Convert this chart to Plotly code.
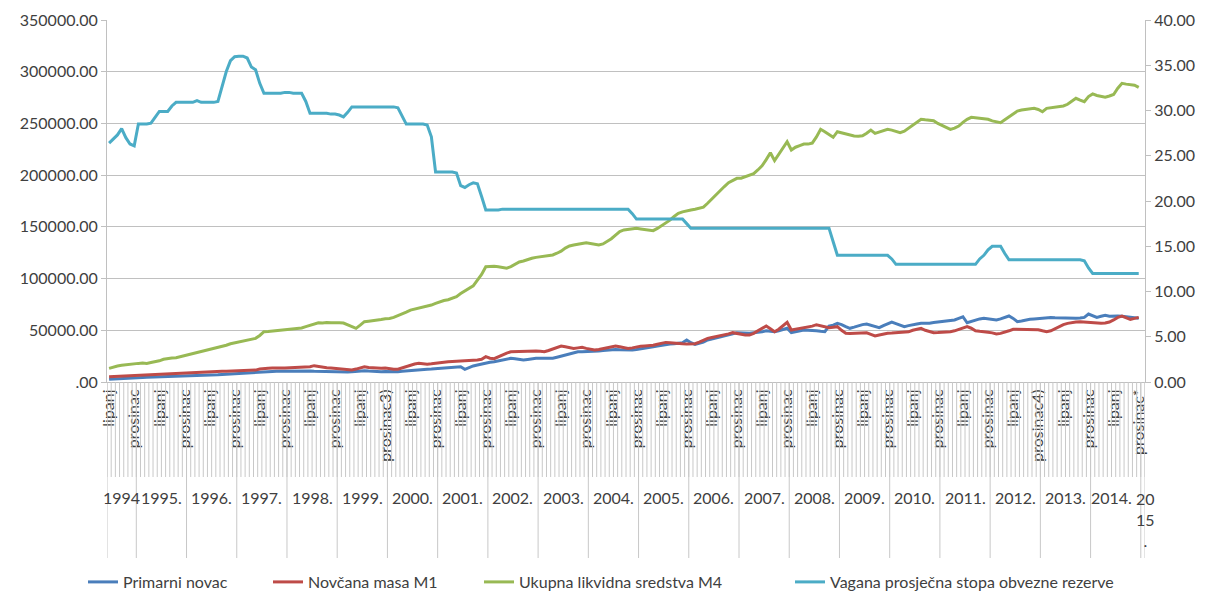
import plotly.graph_objects as go

# ---------------- data ----------------
years = ["1994", "1995.", "1996.", "1997.", "1998.", "1999.", "2000.", "2001.", "2002.",
         "2003.", "2004.", "2005.", "2006.", "2007.", "2008.", "2009.", "2010.", "2011.",
         "2012.", "2013.", "2014.", "2015."]
first_month = [6] + [1] * 20 + [1]
last_month = [12] * 21 + [1]

month_names = ["siječanj", "veljača", "ožujak", "travanj", "svibanj", "lipanj",
               "srpanj", "kolovoz", "rujan", "listopad", "studeni", "prosinac"]
shown_months = ["lipanj", "prosinac"]
label_overrides = {("1999.", "prosinac"): "prosinac3)",
                   ("2012.", "prosinac"): "prosinac4)",
                   ("2014.", "prosinac"): "prosinac*"}

# Primarni novac (thousands), monthly Jun 1994 - Dec 2014
primarni = [
    2.6, 2.9, 3.2, 3.5, 3.7, 3.9, 4.1,
    4.2, 4.3, 4.5, 4.6, 4.8, 5.0, 5.1, 5.2, 5.3, 5.5, 5.6, 5.8,
    5.9, 6.0, 6.1, 6.2, 6.4, 6.6, 6.8, 7.0, 7.3, 7.6, 7.9, 8.2,
    8.5, 8.8, 9.0, 9.3, 9.6, 9.8, 10.0, 10.1, 10.2, 10.3, 10.4, 10.5,
    10.4, 10.3, 10.4, 10.5, 10.6, 10.7, 10.5, 10.3, 10.1, 10.0, 10.0, 10.0,
    9.8, 9.7, 9.6, 9.8, 10.2, 10.6, 10.9, 10.6, 10.3, 10.1, 10.0, 10.2,
    10.0, 9.9, 10.0, 10.5, 10.9, 11.2, 11.6, 11.8, 12.0, 12.3, 12.5, 12.8,
    13.0, 13.2, 13.5, 13.8, 14.2, 14.8, 12.3, 14.0, 15.5, 16.4, 17.5, 18.5,
    19.0, 19.6, 20.5, 21.5, 22.5, 22.9, 22.5, 22.0, 21.3, 21.8, 22.5, 22.9,
    22.9, 22.9, 22.9, 23.0, 24.0, 25.0, 26.1, 27.0, 28.0, 29.3, 29.3, 29.3,
    29.3, 29.3, 30.0, 30.5, 31.0, 31.6, 31.5, 31.3, 31.0, 31.0, 31.0, 31.5,
    32.0, 33.0, 33.5, 34.0, 34.8, 35.5, 36.4, 36.8, 37.0, 37.3, 38.0, 40.6,
    38.0, 36.4, 37.5, 38.5, 40.6, 41.5, 42.2, 43.5, 44.5, 45.5, 46.5, 47.7,
    47.5, 47.0, 47.2, 47.5, 47.7, 48.5, 49.5, 49.0, 48.5, 49.5, 50.5, 51.9,
    47.7, 48.5, 49.5, 50.3, 50.0, 50.0, 49.5, 49.0, 48.6, 54.1, 55.0, 56.7,
    55.5, 53.5, 51.9, 53.0, 54.5, 55.5, 56.1, 55.0, 53.5, 52.5, 54.5, 56.5,
    58.0, 56.5, 55.0, 53.5, 54.5, 55.5, 56.0, 56.7, 56.5, 56.8, 57.5, 58.0,
    58.3, 58.5, 59.0, 60.0, 61.5, 63.1, 57.3, 58.5, 60.0, 61.0, 61.6, 61.0,
    60.5, 60.0, 61.0, 62.5, 63.8, 61.5, 58.3, 59.0, 60.0, 60.6, 61.0, 61.5,
    62.0, 62.5, 62.3, 62.0, 61.8, 61.6, 61.5, 61.6, 61.6, 61.8, 62.5, 65.7,
    64.0, 62.5, 63.5, 64.5, 63.5, 63.8, 63.8, 63.5, 63.0, 62.5, 62.0, 61.6,
]

# Novčana masa M1 (thousands)
m1 = [
    5.1, 5.3, 5.6, 5.9, 6.2, 6.5, 6.8,
    6.9, 7.0, 7.2, 7.4, 7.7, 8.0, 8.2, 8.4, 8.5, 8.6, 8.8, 9.0,
    9.0, 9.1, 9.3, 9.5, 9.7, 10.0, 10.1, 10.2, 10.4, 10.5, 10.7, 10.8,
    10.8, 10.9, 10.9, 11.0, 11.5, 12.5, 13.2, 13.3, 13.5, 13.8, 13.6, 13.5,
    13.6, 13.8, 14.0, 14.2, 14.5, 14.8, 15.8, 15.0, 14.2, 13.8, 13.5, 13.0,
    12.5, 12.0, 11.8, 11.6, 12.5, 13.5, 14.8, 14.0, 13.5, 13.6, 13.2, 13.6,
    12.8, 12.3, 12.3, 13.5, 15.0, 16.5, 17.4, 18.0, 17.5, 17.2, 17.6, 18.2,
    18.8, 19.3, 19.6, 19.8, 20.2, 20.6, 20.8, 21.0, 21.1, 21.3, 22.0, 24.5,
    23.0, 22.5, 24.5, 26.5, 28.0, 29.3, 29.5, 29.8, 30.0, 30.2, 30.3, 30.0,
    29.8, 29.3, 30.5, 32.0, 33.5, 34.8, 34.0, 33.0, 32.5, 33.0, 33.5, 32.5,
    32.0, 31.0, 31.5, 32.5, 33.5, 34.2, 34.8, 34.0, 33.5, 32.5, 33.0, 34.0,
    34.5, 34.8, 35.0, 35.5, 36.5, 37.5, 38.3, 38.0, 37.5, 37.3, 37.0, 36.8,
    36.6, 37.0, 38.5, 40.5, 42.2, 43.0, 43.8, 44.5, 45.5, 46.5, 47.7, 47.0,
    46.0, 45.5, 45.4, 47.0, 49.5, 52.0, 54.1, 51.5, 48.6, 51.0, 54.0, 57.7,
    50.3, 51.0, 52.0, 52.5, 53.0, 54.0, 55.4, 54.5, 53.0, 52.5, 53.0, 53.5,
    50.0, 47.1, 47.0, 47.0, 47.2, 47.1, 47.5, 46.0, 44.5, 45.5, 46.5, 47.1,
    47.3, 47.5, 47.6, 47.7, 48.5, 50.0, 51.0, 51.9, 50.0, 48.5, 47.7, 47.8,
    48.0, 48.3, 48.6, 49.5, 51.0, 52.5, 53.5, 52.0, 49.6, 49.0, 48.8, 48.0,
    47.5, 46.4, 47.0, 48.0, 49.5, 51.0, 51.0, 51.0, 51.0, 50.8, 51.0, 50.5,
    49.5, 48.6, 49.5, 51.5, 53.5, 55.5, 56.7, 57.5, 58.0, 58.3, 58.0, 57.5,
    57.0, 56.8, 56.7, 57.0, 58.0, 60.0, 62.5, 63.8, 62.0, 60.6, 61.5, 62.5,
]

# Ukupna likvidna sredstva M4 (thousands)
m4 = [
    13.2, 14.5, 15.5, 16.2, 16.8, 17.2, 17.6,
    18.0, 18.3, 18.0, 18.8, 19.5, 20.5, 22.0, 22.9, 23.2, 23.5, 24.5, 25.5,
    26.5, 27.5, 28.5, 29.5, 30.5, 31.0, 32.5, 33.5, 34.5, 35.5, 37.0, 37.8,
    38.5, 39.2, 40.2, 41.0, 42.2, 45.0, 48.6, 48.8, 49.2, 49.5, 50.0, 50.3,
    50.5, 51.0, 51.5, 52.2, 53.5, 55.0, 56.5, 57.3, 57.0, 57.5, 57.2, 57.6,
    57.3, 57.0, 55.5, 53.5, 51.9, 55.0, 58.3, 58.8, 59.2, 59.8, 60.5, 61.2,
    61.4, 62.5, 64.0, 65.5, 67.5, 69.5, 70.5, 71.2, 72.5, 73.5, 74.4, 76.0,
    77.5, 78.8, 79.5, 80.9, 82.5, 85.5, 88.0, 90.6, 93.0, 98.6, 104.0, 111.5,
    112.0, 111.8, 111.5, 110.5, 110.0, 111.5, 114.0, 116.0, 117.0, 118.5, 119.6, 120.5,
    121.0, 121.8, 122.3, 122.8, 124.5, 126.5, 129.5, 131.5, 132.5, 133.5, 134.0, 134.7,
    134.0, 133.0, 132.5, 133.5, 135.6, 138.5, 142.0, 145.5, 147.0, 147.5, 148.0, 148.6,
    148.0, 147.5, 147.0, 146.3, 148.5, 151.0, 153.4, 156.5, 160.0, 163.0, 164.5, 165.6,
    166.3, 167.0, 167.9, 169.0, 172.8, 177.0, 181.5, 185.6, 189.0, 192.7, 195.0, 196.9,
    197.0, 198.5, 199.5, 201.5, 205.0, 209.0, 215.0, 221.7, 214.0, 220.0, 226.0, 232.3,
    224.3, 227.0, 228.5, 230.0, 230.0, 231.0, 237.0, 244.3, 242.0, 239.0, 236.6, 242.0,
    241.0, 240.0, 238.5, 237.8, 237.5, 238.0, 240.5, 243.6, 240.4, 241.5, 243.0, 244.3,
    243.5, 242.0, 241.0, 242.5, 245.3, 248.0, 251.5, 254.0, 253.5, 253.0, 252.7, 250.0,
    248.0, 246.0, 244.3, 245.5, 247.5, 251.0, 254.0, 255.9, 255.5, 255.2, 255.0, 254.0,
    252.5, 251.5, 250.7, 253.5, 256.5, 259.0, 262.0, 263.0, 263.5, 264.0, 264.6, 263.5,
    261.3, 264.6, 265.0, 265.5, 266.0, 266.9, 268.5, 271.5, 274.3, 272.5, 271.0, 276.0,
    278.5, 277.0, 276.0, 275.3, 276.5, 278.0, 284.0, 288.8, 288.0, 287.5, 287.0, 284.9,
]

# Vagana prosječna stopa obvezne rezerve (%)
stopa = [
    26.4, 26.8, 27.3, 28.0, 27.0, 26.3, 26.1,
    28.5, 28.5, 28.5, 28.6, 29.3, 29.9, 29.9, 29.9, 30.5, 30.9, 30.9, 30.9,
    30.9, 30.9, 31.1, 30.9, 30.9, 30.9, 30.9, 31.0, 32.8, 34.3, 35.5, 35.95,
    36.0, 36.0, 35.8, 34.8, 34.5, 33.0, 31.9, 31.9, 31.9, 31.9, 31.9, 32.0,
    32.0, 31.9, 31.9, 31.9, 31.0, 29.7, 29.7, 29.7, 29.7, 29.7, 29.6, 29.6,
    29.5, 29.3, 29.8, 30.4, 30.4, 30.4, 30.4, 30.4, 30.4, 30.4, 30.4, 30.4,
    30.4, 30.4, 30.3, 29.4, 28.5, 28.5, 28.5, 28.5, 28.5, 28.4, 27.1, 23.2,
    23.2, 23.2, 23.2, 23.2, 23.1, 21.7, 21.5, 21.8, 22.0, 21.9, 20.5, 19.0,
    19.0, 19.0, 19.0, 19.1, 19.1, 19.1, 19.1, 19.1, 19.1, 19.1, 19.1, 19.1,
    19.1, 19.1, 19.1, 19.1, 19.1, 19.1, 19.1, 19.1, 19.1, 19.1, 19.1, 19.1,
    19.1, 19.1, 19.1, 19.1, 19.1, 19.1, 19.1, 19.1, 19.1, 19.1, 18.6, 18.0,
    18.0, 18.0, 18.0, 18.0, 18.0, 18.0, 18.0, 18.0, 18.0, 18.0, 18.0, 17.5,
    17.0, 17.0, 17.0, 17.0, 17.0, 17.0, 17.0, 17.0, 17.0, 17.0, 17.0, 17.0,
    17.0, 17.0, 17.0, 17.0, 17.0, 17.0, 17.0, 17.0, 17.0, 17.0, 17.0, 17.0,
    17.0, 17.0, 17.0, 17.0, 17.0, 17.0, 17.0, 17.0, 17.0, 17.0, 15.5, 14.0,
    14.0, 14.0, 14.0, 14.0, 14.0, 14.0, 14.0, 14.0, 14.0, 14.0, 14.0, 14.0,
    13.6, 13.0, 13.0, 13.0, 13.0, 13.0, 13.0, 13.0, 13.0, 13.0, 13.0, 13.0,
    13.0, 13.0, 13.0, 13.0, 13.0, 13.0, 13.0, 13.0, 13.0, 13.6, 14.0, 14.6,
    15.0, 15.0, 15.0, 14.2, 13.5, 13.5, 13.5, 13.5, 13.5, 13.5, 13.5, 13.5,
    13.5, 13.5, 13.5, 13.5, 13.5, 13.5, 13.5, 13.5, 13.5, 13.5, 13.4, 12.6,
    12.0, 12.0, 12.0, 12.0, 12.0, 12.0, 12.0, 12.0, 12.0, 12.0, 12.0, 12.0,
]

series_names = ["Primarni novac", "Novčana masa M1", "Ukupna likvidna sredstva M4",
                "Vagana prosječna stopa obvezne rezerve"]
left_ticks = [0, 50000, 100000, 150000, 200000, 250000, 300000, 350000]
left_ticktext = [".00", "50000.00", "100000.00", "150000.00", "200000.00",
                 "250000.00", "300000.00", "350000.00"]
right_ticks = [0, 5, 10, 15, 20, 25, 30, 35, 40]
right_ticktext = ["0.00", "5.00", "10.00", "15.00", "20.00", "25.00", "30.00", "35.00", "40.00"]

# ---------------- build categories ----------------
cat_year, cat_month = [], []
year_start, year_len = [], []
for y, f, l in zip(years, first_month, last_month):
    year_start.append(len(cat_year))
    year_len.append(l - f + 1)
    for m in range(f, l + 1):
        cat_year.append(y)
        cat_month.append(month_names[m - 1])
n_cat = len(cat_year)

tickvals, ticktext = [], []
for i, (y, m) in enumerate(zip(cat_year, cat_month)):
    if m in shown_months and y != "2015.":
        tickvals.append(i)
        ticktext.append(label_overrides.get((y, m), m))

FONT = "Lato"
TXT = "#404040"
GRID = "#c0c0c0"
colors = ["#4a7ebb", "#be4b48", "#98b954", "#4bacc6"]

W, H = 1215, 593
# plot area in window pixels
PL, PR, PT, PB = 107, 1145, 20, 382
legend_px = [83, 268, 479, 790]   # left edge of each legend entry (pixels)
legend_py = 582

fig = go.Figure()
idx = list(range(n_cat))
legend_ids = ["legend", "legend2", "legend3", "legend4"]
for name, vals, col, scale, ax, lg in zip(series_names, [primarni, m1, m4, stopa], colors,
                                           [1000, 1000, 1000, 1], ["y", "y", "y", "y2"],
                                           legend_ids):
    fig.add_trace(go.Scatter(x=idx[:len(vals)], y=[v * scale for v in vals], mode="lines",
                             name=name, yaxis=ax, legend=lg,
                             line=dict(color=col, width=3)))

plot_h = PB - PT
def py(pixel_y):
    return (PB - pixel_y) / plot_h

shapes = []
for k in range(n_cat + 1):
    shapes.append(dict(type="line", xref="x", yref="paper", x0=k - 0.5, x1=k - 0.5,
                       y0=0, y1=py(477), line=dict(color="#c8c8c8", width=1)))
for s in year_start + [n_cat]:
    shapes.append(dict(type="line", xref="x", yref="paper", x0=s - 0.5, x1=s - 0.5,
                       y0=0, y1=py(558), line=dict(color="#c8c8c8", width=1)))

annotations = []
for y, s, n in zip(years, year_start, year_len):
    if y == "2015.":
        annotations.append(dict(x=s + n / 2 - 0.5, y=py(487), xref="x", yref="paper",
                                text="20<br>15<br>.", showarrow=False, yanchor="top",
                                xshift=3, font=dict(family=FONT, size=16, color=TXT)))
    else:
        annotations.append(dict(x=s + n / 2 - 0.5, y=py(497), xref="x", yref="paper",
                                text=y, showarrow=False, yanchor="middle",
                                xshift=-4 if y == "2014." else 0,
                                font=dict(family=FONT, size=16, color=TXT)))

legend_common = dict(orientation="h", xref="container", yref="container",
                     xanchor="left", yanchor="middle", y=1 - legend_py / H,
                     bgcolor="rgba(0,0,0,0)",
                     font=dict(family=FONT, size=16, color=TXT), itemwidth=30)

fig.update_layout(
    width=W, height=H, autosize=False,
    margin=dict(l=PL, r=W - PR, t=PT, b=H - PB, pad=0, autoexpand=False),
    paper_bgcolor="white", plot_bgcolor="white",
    font=dict(family=FONT, size=16, color=TXT),
    showlegend=True,
    legend=dict(x=legend_px[0] / W, **legend_common),
    legend2=dict(x=legend_px[1] / W, **legend_common),
    legend3=dict(x=legend_px[2] / W, **legend_common),
    legend4=dict(x=legend_px[3] / W, **legend_common),
    xaxis=dict(range=[-0.5, n_cat - 0.5], tickmode="array", tickvals=tickvals,
               ticktext=ticktext, tickangle=-90, ticks="", showgrid=False,
               showline=True, linecolor=GRID, linewidth=1, zeroline=False,
               automargin=False,
               tickfont=dict(family=FONT, size=16, color=TXT)),
    yaxis=dict(range=[0, 350000], tickmode="array", tickvals=left_ticks,
               ticktext=left_ticktext, showgrid=True, gridcolor=GRID, gridwidth=1,
               showline=True, linecolor=GRID, ticks="outside", ticklen=5, tickcolor=GRID,
               zeroline=False, automargin=False,
               tickfont=dict(family=FONT, size=16, color=TXT)),
    yaxis2=dict(range=[0, 40], tickmode="array", tickvals=right_ticks,
                ticktext=right_ticktext, overlaying="y", side="right", showgrid=False,
                showline=True, linecolor=GRID, ticks="outside", ticklen=5, tickcolor=GRID,
                zeroline=False, automargin=False,
                tickfont=dict(family=FONT, size=16, color=TXT)),
    shapes=shapes,
    annotations=annotations,
)

# remove the default 8px page margin so the figure fills the window exactly
fig.write_html("out.html", config={"displayModeBar": False},
               post_script="document.body.style.margin='0';document.body.style.overflow='hidden';")
